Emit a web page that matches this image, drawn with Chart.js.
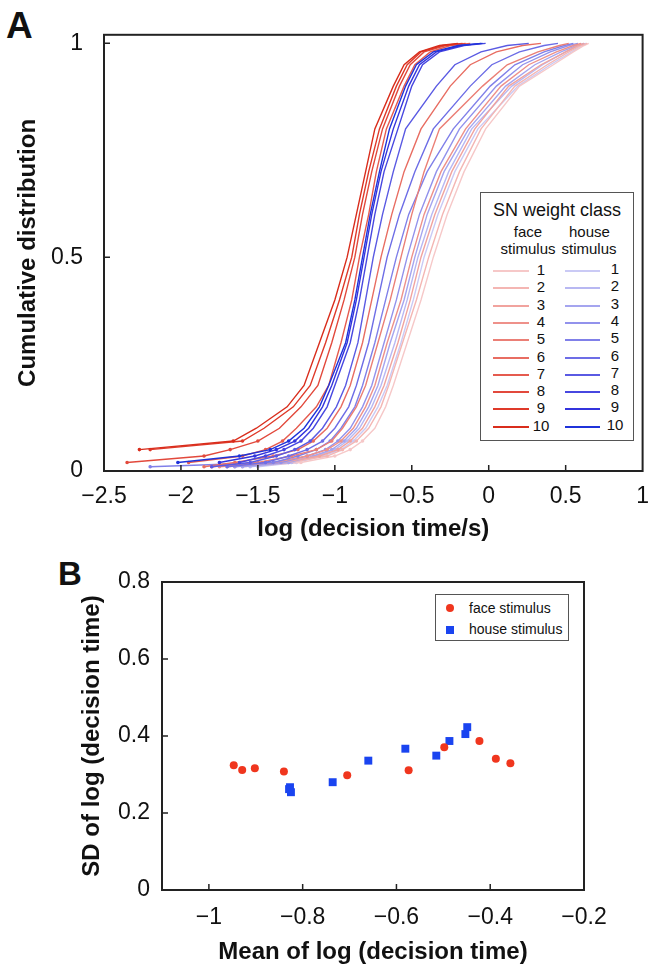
<!DOCTYPE html>
<html>
<head>
<meta charset="utf-8">
<script src="https://cdn.jsdelivr.net/npm/chart.js@4.4.0/dist/chart.umd.min.js"></script>
<style>
  body { margin: 0; background: #fff; font-family: "Liberation Sans", Arial, sans-serif; color: #111; }
  #page { position: relative; width: 661px; height: 974px; overflow: hidden; }
  canvas { position: absolute; left: 0; }
  .panel { position: absolute; font-weight: bold; color: #111; line-height: 1; }
  .leg { position: absolute; background: #fff; border: 1px solid #555; box-sizing: border-box; }
  .leg div { position: absolute; white-space: nowrap; line-height: 1; }
  .sw { height: 0; border-top: 2px solid; }
</style>
</head>
<body>
<div id="page">
  <div class="panel" style="left:6px; top:7px; font-size:37px;">A</div>
  <div class="panel" style="left:58px; top:557px; font-size:33px;">B</div>
  <canvas id="chartA" width="661" height="545" style="top:0"></canvas>
  <canvas id="chartB" width="661" height="429" style="top:545px"></canvas>
  <div class="leg" id="legA" style="left:480px; top:192px; width:154px; height:249px;"></div>
  <div class="leg" id="legB" style="left:435px; top:594px; width:134px; height:47px;"></div>
</div>
<script>
// ---- panel A: cumulative distributions (x value of each curve at these levels)
var levels = [0.01, 0.02, 0.035, 0.05, 0.07, 0.1, 0.15, 0.2, 0.3, 0.4, 0.5, 0.6, 0.7, 0.8, 0.9, 0.95, 0.98, 0.995, 1];

var face1  = [-1.60, -1.22, -1.00, -0.90, -0.82, -0.74, -0.67, -0.62, -0.53, -0.44, -0.36, -0.27, -0.16, -0.02, 0.20, 0.42, 0.55, 0.62, 0.65];
var face2  = [-1.65, -1.30, -1.05, -0.95, -0.86, -0.78, -0.70, -0.65, -0.56, -0.47, -0.39, -0.30, -0.19, -0.05, 0.17, 0.38, 0.52, 0.60, 0.64];
var face3  = [-1.70, -1.35, -1.10, -0.98, -0.90, -0.82, -0.74, -0.68, -0.59, -0.51, -0.44, -0.35, -0.24, -0.09, 0.13, 0.34, 0.50, 0.58, 0.62];
var face4  = [-1.75, -1.40, -1.18, -1.05, -0.96, -0.88, -0.80, -0.74, -0.66, -0.57, -0.50, -0.42, -0.31, -0.15, 0.08, 0.26, 0.44, 0.55, 0.60];
var face5  = [-1.80, -1.50, -1.28, -1.12, -1.02, -0.95, -0.86, -0.80, -0.72, -0.64, -0.57, -0.50, -0.42, -0.32, -0.04, 0.12, 0.32, 0.46, 0.52];
var face6  = [-1.85, -1.65, -1.40, -1.24, -1.14, -1.05, -0.96, -0.90, -0.82, -0.76, -0.70, -0.63, -0.55, -0.44, -0.25, -0.12, 0.05, 0.22, 0.34];
var face7  = [null, -1.95, -1.60, -1.45, -1.34, -1.25, -1.12, -1.04, -0.96, -0.89, -0.84, -0.78, -0.73, -0.665, -0.55, -0.48, -0.38, -0.25, -0.12];
var face8  = [null, -2.35, -1.85, -1.68, -1.50, -1.36, -1.22, -1.11, -1.02, -0.94, -0.87, -0.82, -0.76, -0.69, -0.58, -0.51, -0.42, -0.28, -0.15];
var face9  = [null, null, null, -2.20, -1.60, -1.46, -1.27, -1.16, -1.06, -0.97, -0.89, -0.84, -0.78, -0.71, -0.60, -0.53, -0.44, -0.30, -0.17];
var face10 = [null, null, null, -2.27, -1.66, -1.51, -1.31, -1.20, -1.10, -1.00, -0.92, -0.86, -0.80, -0.74, -0.62, -0.55, -0.45, -0.32, -0.20];

var house1  = [-1.50, -1.25, -1.08, -0.96, -0.88, -0.80, -0.72, -0.66, -0.57, -0.49, -0.42, -0.33, -0.22, -0.07, 0.19, 0.40, 0.54, 0.61, 0.64];
var house2  = [-1.55, -1.28, -1.12, -1.00, -0.92, -0.84, -0.76, -0.70, -0.61, -0.53, -0.46, -0.37, -0.26, -0.11, 0.15, 0.35, 0.50, 0.59, 0.63];
var house3  = [-1.60, -1.30, -1.14, -1.02, -0.94, -0.86, -0.78, -0.72, -0.64, -0.55, -0.48, -0.40, -0.29, -0.13, 0.11, 0.30, 0.47, 0.57, 0.62];
var house4  = [-1.65, -1.35, -1.18, -1.06, -0.98, -0.90, -0.82, -0.76, -0.68, -0.60, -0.53, -0.45, -0.34, -0.19, 0.05, 0.22, 0.40, 0.52, 0.58];
var house5  = [-2.20, -1.40, -1.24, -1.12, -1.03, -0.96, -0.87, -0.82, -0.74, -0.67, -0.60, -0.52, -0.40, -0.23, 0.01, 0.17, 0.36, 0.49, 0.55];
var house6  = [-1.70, -1.45, -1.30, -1.18, -1.08, -1.00, -0.91, -0.86, -0.78, -0.72, -0.66, -0.58, -0.48, -0.36, -0.12, 0.02, 0.20, 0.36, 0.45];
var house7  = [-1.80, -1.55, -1.38, -1.26, -1.16, -1.08, -0.99, -0.93, -0.85, -0.80, -0.75, -0.69, -0.62, -0.54, -0.34, -0.22, -0.05, 0.12, 0.26];
var house8  = [null, -1.62, -1.45, -1.33, -1.22, -1.14, -1.05, -1.00, -0.90, -0.84, -0.79, -0.74, -0.68, -0.59, -0.50, -0.43, -0.32, -0.16, -0.02];
var house9  = [null, -1.75, -1.52, -1.38, -1.26, -1.17, -1.08, -1.02, -0.92, -0.86, -0.81, -0.76, -0.70, -0.62, -0.52, -0.45, -0.34, -0.18, -0.05];
var house10 = [null, -2.02, -1.62, -1.42, -1.30, -1.20, -1.10, -1.04, -0.93, -0.87, -0.82, -0.77, -0.71, -0.645, -0.54, -0.47, -0.36, -0.20, -0.04];

var classes = ["1", "2", "3", "4", "5", "6", "7", "8", "9", "10"];
var faceCurves = [face1, face2, face3, face4, face5, face6, face7, face8, face9, face10];
var houseCurves = [house1, house2, house3, house4, house5, house6, house7, house8, house9, house10];

var xTicksA = [-2.5, -2, -1.5, -1, -0.5, 0, 0.5, 1];
var yTicksA = [0, 0.5, 1];

// ---- panel B: mean and SD of log decision time per class
var faceMean  = [-0.947, -0.929, -0.902, -0.840, -0.705, -0.574, -0.498, -0.423, -0.388, -0.357];
var faceSD    = [0.324, 0.312, 0.316, 0.308, 0.298, 0.311, 0.371, 0.387, 0.341, 0.329];
var houseMean = [-0.827, -0.825, -0.829, -0.736, -0.660, -0.581, -0.515, -0.487, -0.453, -0.449];
var houseSD   = [0.267, 0.254, 0.262, 0.280, 0.336, 0.367, 0.349, 0.387, 0.405, 0.423];

var xTicksB = [-1, -0.8, -0.6, -0.4, -0.2];
var yTicksB = [0, 0.2, 0.4, 0.6, 0.8];

// colours, class 1 (light) to 10 (dark)
var faceColors  = ["#f6c8c8", "#f4b6b3", "#f1a39e", "#ee918a", "#eb7f76", "#e86d62", "#e55b4f", "#e2493c", "#df3a2a", "#d92d1c"];
var houseColors = ["#cacaf5", "#b8b8f2", "#a5a5ef", "#9292ec", "#8080e9", "#6d6de6", "#5a5ae3", "#4747e0", "#3434dd", "#1f33da"];

function fmt(v) {
  var s = String(Math.round(v * 100) / 100);
  return s.replace("-", "\u2212");
}

function curvePoints(xs) {
  var pts = [];
  for (var i = 0; i < xs.length; i++) {
    if (xs[i] !== null) pts.push({ x: xs[i], y: levels[i] });
  }
  return pts;
}

// frame and inward tick marks
var framePlugin = {
  id: "frame",
  afterDraw: function(chart) {
    var ctx = chart.ctx, a = chart.chartArea;
    var xs = chart.scales.x, ys = chart.scales.y;
    ctx.save();
    ctx.strokeStyle = "#222";
    ctx.lineWidth = 2;
    ctx.strokeRect(a.left, a.top, a.right - a.left, a.bottom - a.top);
    ctx.lineWidth = 1.5;
    ctx.beginPath();
    xs.ticks.forEach(function(t) {
      var p = xs.getPixelForValue(t.value);
      if (p - a.left < 2 || a.right - p < 2) return;
      ctx.moveTo(p, a.bottom);
      ctx.lineTo(p, a.bottom - 6);
    });
    ys.ticks.forEach(function(t) {
      var p = ys.getPixelForValue(t.value);
      if (a.bottom - p < 2) return;
      ctx.moveTo(a.left, p);
      ctx.lineTo(a.left + 6, p);
    });
    ctx.stroke();
    ctx.restore();
  }
};

function axis(min, max, ticks, title, opts) {
  return {
    type: "linear",
    min: min,
    max: max,
    afterBuildTicks: function(s) {
      s.ticks = ticks.map(function(v) { return { value: v }; });
    },
    afterFit: opts.fit,
    grid: { display: false, drawTicks: false },
    border: { display: false },
    ticks: {
      color: "#111",
      padding: opts.pad,
      maxRotation: 0,
      autoSkip: false,
      font: { family: "'Liberation Sans', Arial, sans-serif", size: 23 },
      callback: function(v) { return fmt(v); }
    },
    title: {
      display: true,
      text: title,
      color: "#111",
      padding: opts.titlePad,
      font: { family: "'Liberation Sans', Arial, sans-serif", size: 24, weight: "bold" }
    }
  };
}

// dots only show in the sparse lower tails
function tailDots(ctx) {
  return ctx.raw && ctx.raw.y <= 0.07 ? 1.1 : 0;
}

// ---- chart A
var dsA = [];
for (var k = 9; k >= 0; k--) {
  dsA.push({
    label: "face " + classes[k],
    data: curvePoints(faceCurves[k]),
    borderColor: faceColors[k],
    backgroundColor: faceColors[k],
    borderWidth: 1.4,
    pointRadius: tailDots,
    showLine: true,
    order: 20 - 2 * k
  });
  dsA.push({
    label: "house " + classes[k],
    data: curvePoints(houseCurves[k]),
    borderColor: houseColors[k],
    backgroundColor: houseColors[k],
    borderWidth: 1.4,
    pointRadius: tailDots,
    showLine: true,
    order: 21 - 2 * k
  });
}

new Chart(document.getElementById("chartA"), {
  type: "scatter",
  data: { datasets: dsA },
  options: {
    responsive: false,
    animation: false,
    layout: { padding: { top: 15, right: 8, left: 0, bottom: 0 } },
    plugins: { legend: { display: false }, tooltip: { enabled: false } },
    scales: {
      x: axis(-2.5, 1, xTicksA, "log (decision time/s)", {
        pad: 12, titlePad: { top: 0, bottom: 1 },
        fit: function(s) { s.height = 74; }
      }),
      y: axis(0, 1.02, yTicksA, "Cumulative distribution", {
        pad: 21, titlePad: { top: 14, bottom: 0 },
        fit: function(s) { s.width = 104; }
      })
    }
  },
  plugins: [framePlugin]
});

// ---- chart B
function pairs(xs, ys) {
  return xs.map(function(v, i) { return { x: v, y: ys[i] }; });
}

new Chart(document.getElementById("chartB"), {
  type: "scatter",
  data: {
    datasets: [
      { label: "face stimulus", data: pairs(faceMean, faceSD), pointStyle: "circle", pointRadius: 4,
        backgroundColor: "#f0361e", borderColor: "#f0361e", borderWidth: 0 },
      { label: "house stimulus", data: pairs(houseMean, houseSD), pointStyle: "rect", pointRadius: 5.6,
        backgroundColor: "#1a44f0", borderColor: "#1a44f0", borderWidth: 0 }
    ]
  },
  options: {
    responsive: false,
    animation: false,
    layout: { padding: { top: 37, right: 77, left: 0, bottom: 0 } },
    plugins: { legend: { display: false }, tooltip: { enabled: false } },
    scales: {
      x: axis(-1.1, -0.2, xTicksB, "Mean of log (decision time)", {
        pad: 14, titlePad: { top: 0, bottom: 7 },
        fit: function(s) { s.height = 84; }
      }),
      y: axis(0, 0.8, yTicksB, "SD of log (decision time)", {
        pad: 12, titlePad: { top: 78, bottom: 0 },
        fit: function(s) { s.width = 162; }
      })
    }
  },
  plugins: [framePlugin]
});

// ---- legend A (two columns of class swatches)
var legA = document.getElementById("legA");
var html = '<div style="left:0;width:152px;text-align:center;top:8px;font-size:18px;">SN weight class</div>' +
  '<div style="left:27px;width:40px;text-align:center;top:31px;font-size:15px;">face</div>' +
  '<div style="left:17px;width:60px;text-align:center;top:48px;font-size:15px;">stimulus</div>' +
  '<div style="left:88px;width:40px;text-align:center;top:31px;font-size:15px;">house</div>' +
  '<div style="left:78px;width:60px;text-align:center;top:48px;font-size:15px;">stimulus</div>';
for (var r = 0; r < classes.length; r++) {
  var y = 77 + r * 17.3;
  html += '<div class="sw" style="left:12px;width:36px;top:' + y + 'px;border-color:' + faceColors[r] + '"></div>';
  html += '<div style="left:50px;width:20px;text-align:center;top:' + (y - 8) + 'px;font-size:15px;">' + classes[r] + '</div>';
  html += '<div class="sw" style="left:84px;width:35px;top:' + y + 'px;border-color:' + houseColors[r] + '"></div>';
  html += '<div style="left:124px;width:20px;text-align:center;top:' + (y - 9) + 'px;font-size:15px;">' + classes[r] + '</div>';
}
legA.innerHTML = html;

// ---- legend B
document.getElementById("legB").innerHTML =
  '<div style="left:10px;top:9px;width:8px;height:8px;border-radius:50%;background:#f0361e;"></div>' +
  '<div style="left:33px;top:6px;font-size:14px;">face stimulus</div>' +
  '<div style="left:10px;top:31px;width:8px;height:8px;background:#1a44f0;"></div>' +
  '<div style="left:33px;top:27px;font-size:14px;">house stimulus</div>';
</script>
</body>
</html>
